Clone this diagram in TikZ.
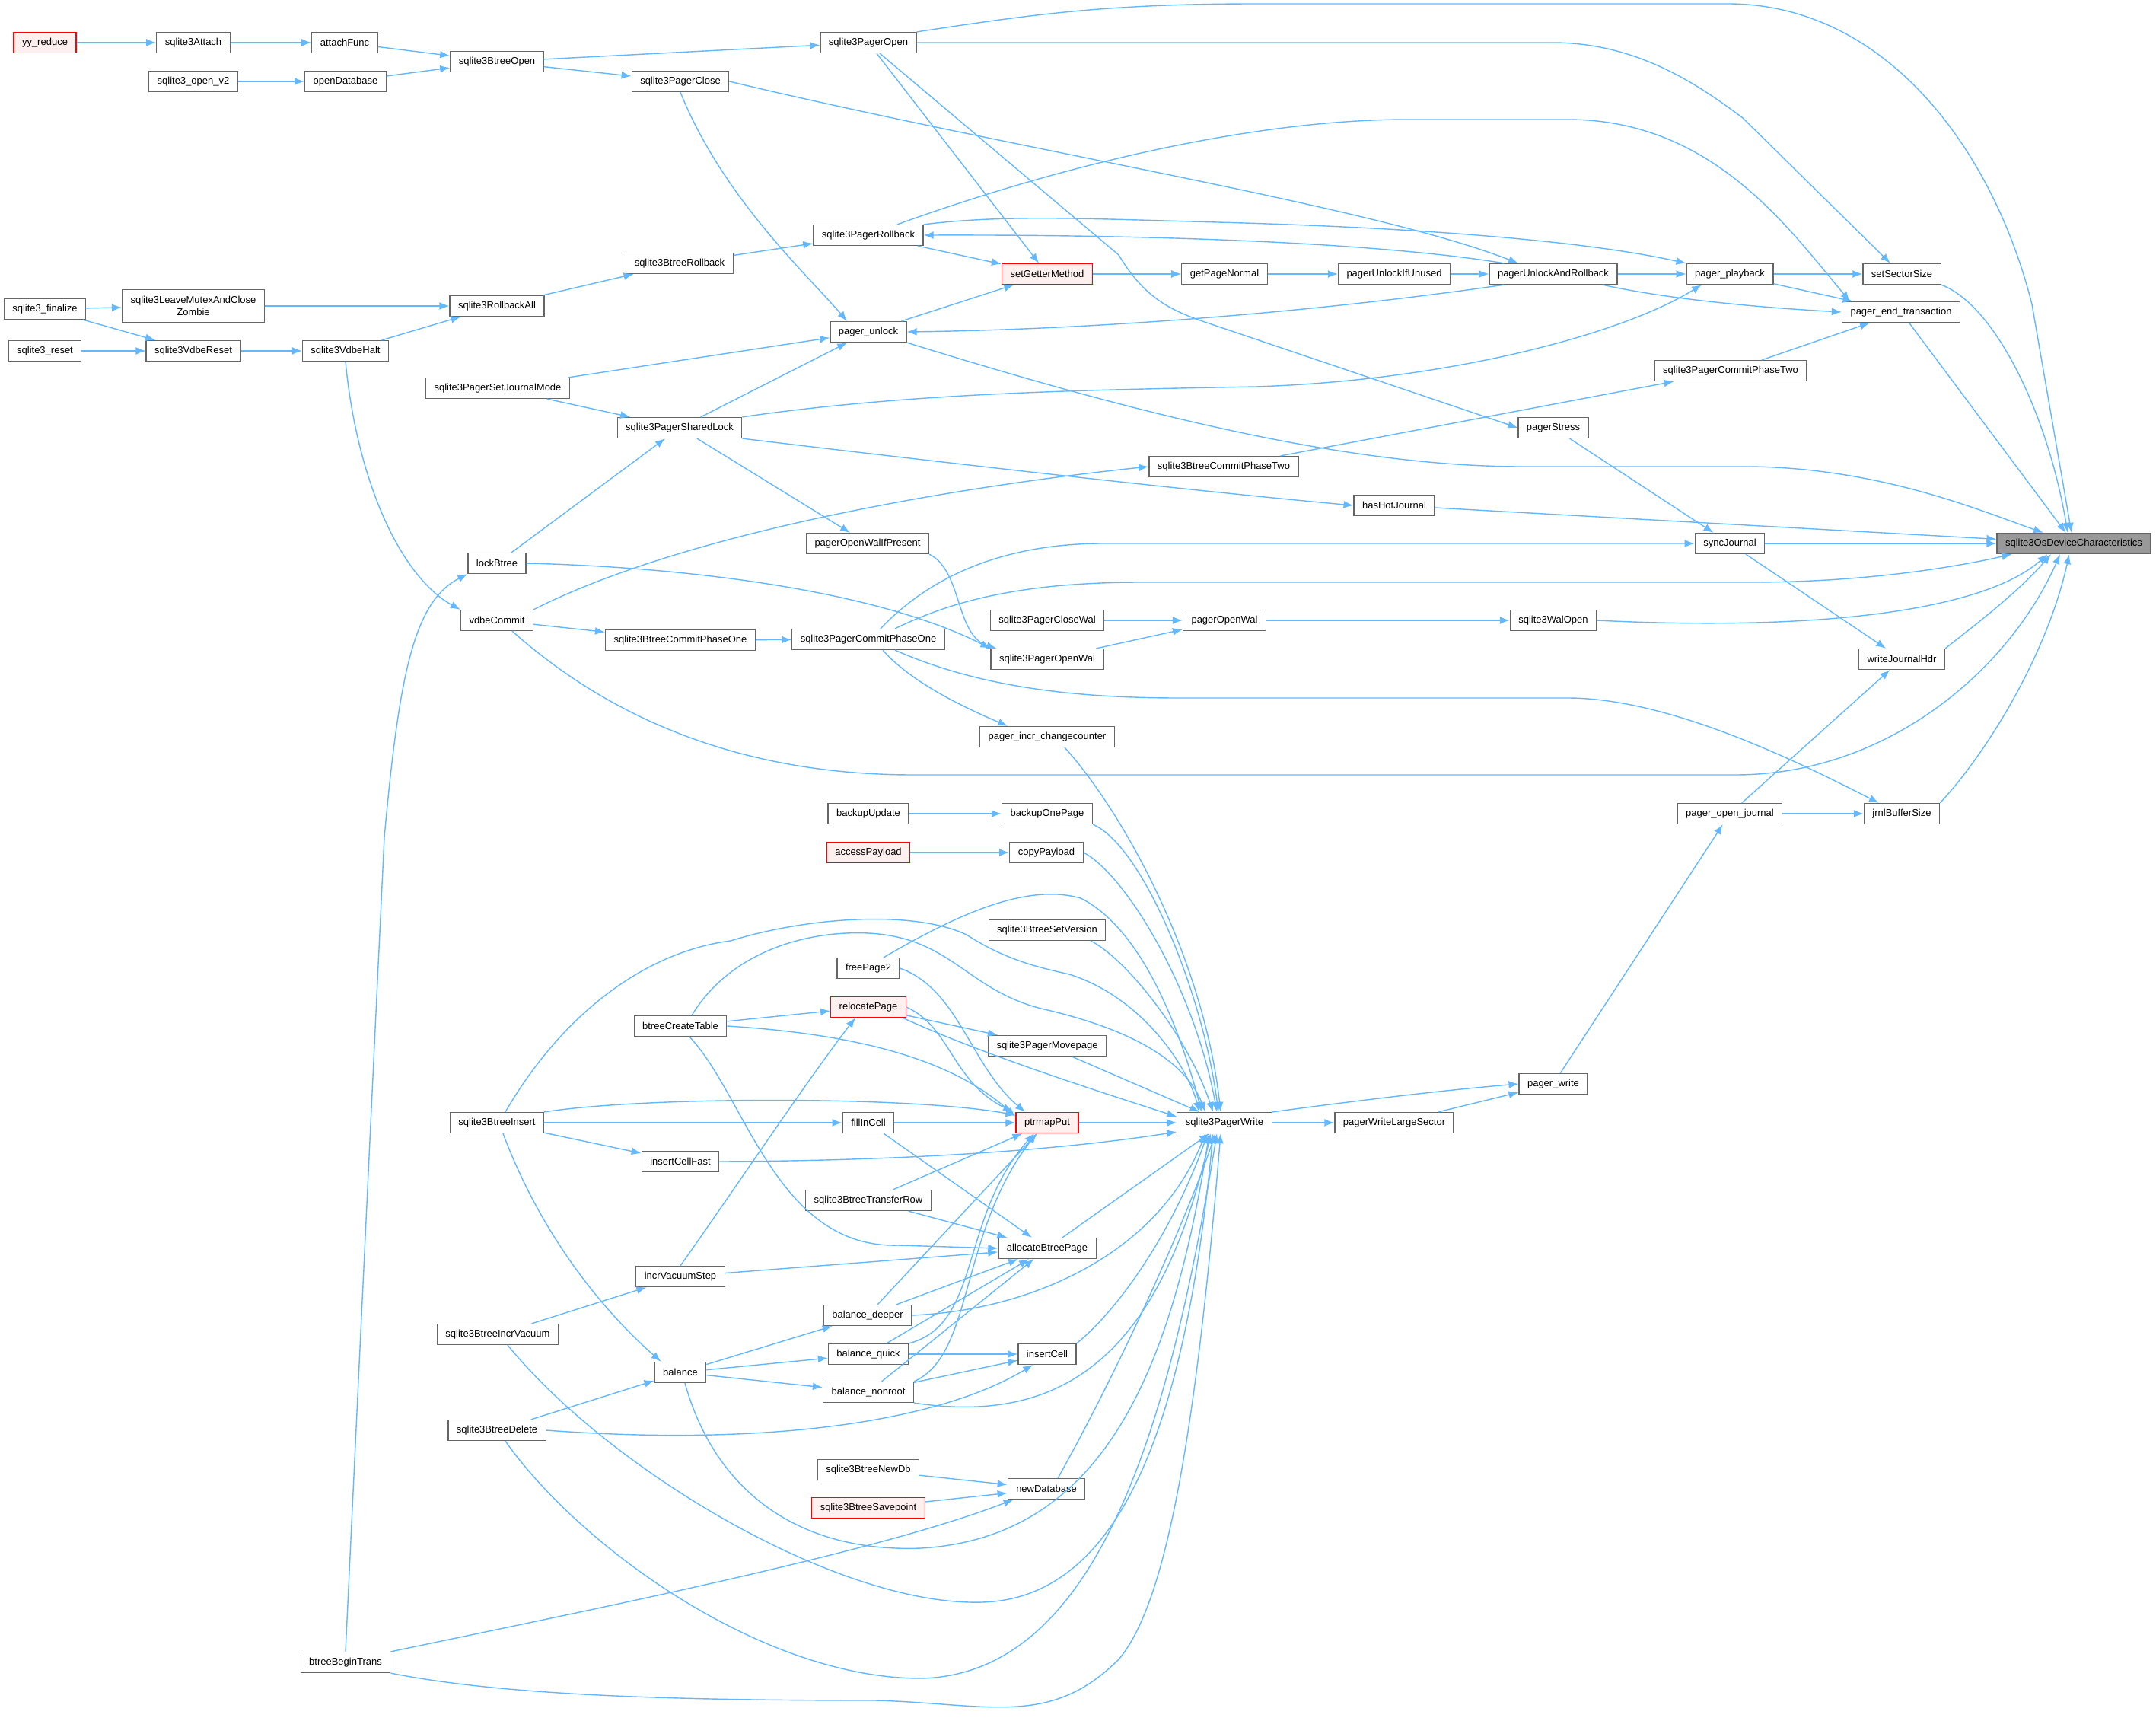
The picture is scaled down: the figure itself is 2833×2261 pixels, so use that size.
\documentclass[tikz,border=0pt]{standalone}
\usepackage{fontspec}
\setmainfont{Liberation Sans}
\usetikzlibrary{calc,arrows.meta}
\definecolor{edgeblue}{RGB}{99,184,255}
\definecolor{boxgray}{RGB}{102,102,102}
\definecolor{hotfill}{RGB}{255,240,240}
\definecolor{rootfill}{RGB}{153,153,153}

\begin{document}
\begin{tikzpicture}[x=0.02cm,y=-0.02cm]
\tikzstyle{fn} = [draw=boxgray, fill=white, line width=0.7pt, inner xsep=0.22cm,
            inner ysep=0pt, minimum height=0.54cm, font=\fontsize{7.4}{8.8}\selectfont];
\tikzstyle{hotfn} = [fn, draw=red, fill=hotfill];
\tikzstyle{rootfn} = [fn, fill=rootfill];
\tikzstyle{calls} = [draw=edgeblue, line width=0.8pt, -{Latex[length=2.6mm,width=2mm]}];

    \fill[white] (0,0) rectangle (2833,2261);
    \useasboundingbox (0,0) rectangle (2833,2261);

    % functions
    \node (yyreduce) at (59,56) [hotfn] {yy\_reduce};
    \node (attach) at (254,56) [fn] {sqlite3Attach};
    \node (attachfunc) at (453,56) [fn] {attachFunc};
    \node (btopen) at (653,81) [fn] {sqlite3BtreeOpen};
    \node (openv2) at (254,107) [fn] {sqlite3\_open\_v2};
    \node (opendb) at (454,107) [fn] {openDatabase};
    \node (pgopen) at (1141,56) [fn] {sqlite3PagerOpen};
    \node (pgclose) at (894,107) [fn] {sqlite3PagerClose};
    \node (pgrollback) at (1141,309) [fn] {sqlite3PagerRollback};
    \node (btrollback) at (893,346) [fn] {sqlite3BtreeRollback};
    \node (getter) at (1376,360) [hotfn] {setGetterMethod};
    \node (getpage) at (1609,360) [fn] {getPageNormal};
    \node (unlockunused) at (1832,360) [fn] {pagerUnlockIfUnused};
    \node (unlockrb) at (2041,360) [fn] {pagerUnlockAndRollback};
    \node (playback) at (2273,360) [fn] {pager\_playback};
    \node (sectorsize) at (2499,360) [fn] {setSectorSize};
    \node (finalize) at (59,406) [fn] {sqlite3\_finalize};
    \node (zombie) at (254,402) [fn, align=center, minimum height=0.86cm] {sqlite3LeaveMutexAndClose\\Zombie};
    \node (rollbackall) at (653,402) [fn] {sqlite3RollbackAll};
    \node (endtrans) at (2498,410) [fn] {pager\_end\_transaction};
    \node (pgunlock) at (1141,436) [fn] {pager\_unlock};
    \node (reset) at (59,461) [fn] {sqlite3\_reset};
    \node (vdbereset) at (254,461) [fn] {sqlite3VdbeReset};
    \node (vdbehalt) at (454,461) [fn] {sqlite3VdbeHalt};
    \node (commit2) at (2274,487) [fn] {sqlite3PagerCommitPhaseTwo};
    \node (setjmode) at (654,510) [fn] {sqlite3PagerSetJournalMode};
    \node (sharedlock) at (893,562) [fn] {sqlite3PagerSharedLock};
    \node (stress) at (2041,562) [fn] {pagerStress};
    \node (btcommit2) at (1608,613) [fn] {sqlite3BtreeCommitPhaseTwo};
    \node (hothj) at (1832,664) [fn] {hasHotJournal};
    \node (walifpresent) at (1140,714) [fn] {pagerOpenWalIfPresent};
    \node (syncj) at (2273,714) [fn] {syncJournal};
    \node (osdev) at (2725,714) [rootfn] {sqlite3OsDeviceCharacteristics};
    \node (lockbtree) at (653,740) [fn] {lockBtree};
    \node (vdbecommit) at (653,815) [fn] {vdbeCommit};
    \node (closewal) at (1376,815) [fn] {sqlite3PagerCloseWal};
    \node (openwal) at (1609,815) [fn] {pagerOpenWal};
    \node (walopen) at (2041,815) [fn] {sqlite3WalOpen};
    \node (btcommit1) at (894,841) [fn] {sqlite3BtreeCommitPhaseOne};
    \node (pgcommit1) at (1141,840) [fn] {sqlite3PagerCommitPhaseOne};
    \node (pgopenwal) at (1376,866) [fn] {sqlite3PagerOpenWal};
    \node (writehdr) at (2499,866) [fn] {writeJournalHdr};
    \node (incrcc) at (1376,968) [fn] {pager\_incr\_changecounter};
    \node (backupupdate) at (1141,1069) [fn] {backupUpdate};
    \node (backuppage) at (1376,1069) [fn] {backupOnePage};
    \node (openjournal) at (2273,1069) [fn] {pager\_open\_journal};
    \node (jrnlbuf) at (2499,1069) [fn] {jrnlBufferSize};
    \node (accesspayload) at (1141,1120) [hotfn] {accessPayload};
    \node (copypayload) at (1375,1120) [fn] {copyPayload};
    \node (setversion) at (1376,1222) [fn] {sqlite3BtreeSetVersion};
    \node (freepage2) at (1141,1272) [fn] {freePage2};
    \node (relocate) at (1141,1323) [hotfn] {relocatePage};
    \node (createtable) at (894,1348) [fn] {btreeCreateTable};
    \node (movepage) at (1376,1374) [fn] {sqlite3PagerMovepage};
    \node (pagerwrite) at (2041,1424) [fn] {pager\_write};
    \node (btinsert) at (653,1475) [fn] {sqlite3BtreeInsert};
    \node (fillincell) at (1141,1475) [fn] {fillInCell};
    \node (ptrmap) at (1376,1475) [hotfn] {ptrmapPut};
    \node (pgwrite) at (1609,1475) [fn] {sqlite3PagerWrite};
    \node (largesector) at (1832,1475) [fn] {pagerWriteLargeSector};
    \node (insertfast) at (894,1526) [fn] {insertCellFast};
    \node (transferrow) at (1141,1577) [fn] {sqlite3BtreeTransferRow};
    \node (allocpage) at (1376,1640) [fn] {allocateBtreePage};
    \node (incrvacstep) at (894,1677) [fn] {incrVacuumStep};
    \node (baldeeper) at (1140,1728) [fn] {balance\_deeper};
    \node (incrvacuum) at (654,1753) [fn] {sqlite3BtreeIncrVacuum};
    \node (balquick) at (1141,1779) [fn] {balance\_quick};
    \node (insertcell) at (1376,1779) [fn] {insertCell};
    \node (balance) at (894,1803) [fn] {balance};
    \node (balnonroot) at (1141,1829) [fn] {balance\_nonroot};
    \node (btdelete) at (653,1879) [fn] {sqlite3BtreeDelete};
    \node (btnewdb) at (1141,1931) [fn] {sqlite3BtreeNewDb};
    \node (newdb) at (1375,1956) [fn] {newDatabase};
    \node (savepoint) at (1141,1981) [hotfn] {sqlite3BtreeSavepoint};
    \node (begintrans) at (454,2184) [fn] {btreeBeginTrans};

    % straight calls
    \foreach \src/\dst in {yyreduce/attach, attach/attachfunc, attachfunc/btopen,
            openv2/opendb, opendb/btopen, btopen/pgopen, btopen/pgclose,
            finalize/zombie, finalize/vdbereset, reset/vdbereset, vdbereset/vdbehalt,
            vdbehalt/rollbackall, zombie/rollbackall, rollbackall/btrollback,
            btrollback/pgrollback, pgopen/getter, pgrollback/getter, pgunlock/getter,
            getter/getpage, getpage/unlockunused, unlockunused/unlockrb,
            unlockrb/playback, playback/sectorsize, playback/endtrans, commit2/endtrans,
            btcommit2/commit2, endtrans/osdev, setjmode/pgunlock, setjmode/sharedlock,
            sharedlock/pgunlock, sharedlock/walifpresent, lockbtree/sharedlock,
            stress/syncj, hothj/osdev, syncj/osdev, syncj/writehdr,
            vdbecommit/btcommit1, btcommit1/pgcommit1, closewal/openwal,
            pgopenwal/openwal, openwal/walopen, openjournal/writehdr,
            openjournal/jrnlbuf, pagerwrite/openjournal, pgwrite/largesector,
            largesector/pagerwrite, backupupdate/backuppage, accesspayload/copypayload,
            relocate/movepage, createtable/relocate, movepage/pgwrite,
            btinsert/fillincell, btinsert/insertfast, fillincell/ptrmap,
            fillincell/allocpage, transferrow/ptrmap, transferrow/allocpage,
            ptrmap/pgwrite, allocpage/pgwrite, incrvacstep/allocpage,
            incrvacuum/incrvacstep, balance/baldeeper, balance/balquick,
            balance/balnonroot, btdelete/balance, baldeeper/ptrmap, baldeeper/allocpage,
            balquick/allocpage, balquick/insertcell, balnonroot/allocpage,
            balnonroot/insertcell, btnewdb/newdb, savepoint/newdb} {
        \draw[calls] (\src) -- (\dst);
    }

    % routed calls, upper half
    \draw[calls] (pgopen.north east) .. controls (1350,20) and (1450,5) .. (1650,5) -- (2270,5) .. controls (2480,5) and (2620,200) .. (2670,400) -- ($(osdev.north)+(-3,0)$);
    \draw[calls] (pgopen.east) -- (2040,56) .. controls (2150,56) and (2230,110) .. (2290,155) -- ($(sectorsize.north)+(-15,0)$);
    \draw[calls] ($(pgopen.south)+(15,0)$) -- (1470,335) .. controls (1500,385) and (1530,405) .. (1580,422) -- (stress.west);
    \draw[calls] (pgclose.south) .. controls (950,260) and (1060,360) .. ($(pgunlock.north)+(-28,0)$);
    \draw[calls] (pgclose.east) .. controls (1350,200) and (1800,270) .. ($(unlockrb.north)+(-46,0)$);
    \draw[calls] ($(pgrollback.north)+(38,0)$) .. controls (1400,215) and (1650,157) .. (1850,157) -- (2060,157) .. controls (2250,157) and (2350,300) .. ($(endtrans.north west)+(11,0)$);
    \draw[calls] (pgrollback.north east) .. controls (1320,282) and (1420,287) .. (1600,292) .. controls (1900,300) and (2100,320) .. (playback.north west);
    \draw[calls] ($(unlockrb.north west)+(20,0)$) .. controls (1850,325) and (1600,308) .. (pgrollback.east);
    \draw[calls] ($(unlockrb.south west)+(20,0)$) .. controls (1800,400) and (1500,432) .. (pgunlock.east);
    \draw[calls] ($(unlockrb.south east)+(-20,0)$) .. controls (2200,395) and (2330,405) .. (endtrans.west);
    \draw[calls] (sectorsize.south east) .. controls (2620,400) and (2690,540) .. ($(osdev.north)+(-8,0)$);
    \draw[calls] (sharedlock.north east) .. controls (1200,515) and (1450,512) .. (1650,508) .. controls (1900,500) and (2130,440) .. ($(playback.south)+(-37,0)$);
    \draw[calls] (sharedlock.south east) .. controls (1300,615) and (1600,648) .. (hothj.west);
    \draw[calls] (pgunlock.south east) .. controls (1450,530) and (1750,613) .. (2000,613) -- (2300,613) .. controls (2470,615) and (2600,670) .. ($(osdev.north)+(-40,0)$);
    \draw[calls] (vdbehalt.south) .. controls (470,640) and (530,760) .. (vdbecommit.north west);
    \draw[calls] (lockbtree.east) .. controls (900,745) and (1150,775) .. (pgopenwal.north west);
    \draw[calls] (walifpresent.south east) .. controls (1265,750) and (1255,835) .. ($(pgopenwal.north west)+(8,0)$);
    \draw[calls] (vdbecommit.north east) .. controls (900,700) and (1250,640) .. (btcommit2.west);
    \draw[calls] ($(vdbecommit.south)+(20,0)$) .. controls (820,960) and (1000,1018) .. (1200,1018) -- (2280,1018) .. controls (2480,1018) and (2640,880) .. ($(osdev.south)+(-18,0)$);
    \draw[calls] ($(pgcommit1.north)+(16,0)$) .. controls (1210,770) and (1300,714) .. (1450,714) -- (syncj.west);
    \draw[calls] ($(pgcommit1.north)+(35,0)$) .. controls (1250,790) and (1340,765) .. (1500,765) -- (2300,765) .. controls (2450,765) and (2570,745) .. ($(osdev.south west)+(20,0)$);
    \draw[calls] ($(pgcommit1.south)+(35,0)$) .. controls (1280,900) and (1400,917) .. (1550,917) -- (2060,917) .. controls (2200,917) and (2380,1010) .. ($(jrnlbuf.north west)+(20,0)$);
    \draw[calls] ($(pgcommit1.south)+(19,0)$) .. controls (1200,900) and (1280,935) .. ($(incrcc.north west)+(37,0)$);
    \draw[calls] (walopen.east) .. controls (2400,830) and (2610,800) .. ($(osdev.south west)+(67,0)$);
    \draw[calls] (writehdr.north east) .. controls (2590,825) and (2650,780) .. ($(osdev.south)+(-30,0)$);
    \draw[calls] (jrnlbuf.north east) .. controls (2610,990) and (2690,860) .. ($(osdev.south)+(-6,0)$);
    \draw[calls] (pgwrite.north east) .. controls (1790,1445) and (1900,1432) .. (pagerwrite.west);

    % routed calls, lower half
    \draw[calls] (backuppage.south east) .. controls (1500,1110) and (1580,1300) .. ($(pgwrite.north)+(-8,0)$);
    \draw[calls] ($(incrcc.south)+(23,0)$) .. controls (1470,1060) and (1580,1250) .. ($(pgwrite.north)+(-5,0)$);
    \draw[calls] (copypayload.east) .. controls (1480,1150) and (1570,1300) .. ($(pgwrite.north)+(-10,0)$);
    \draw[calls] ($(setversion.south east)+(-20,0)$) .. controls (1480,1260) and (1560,1360) .. ($(pgwrite.north)+(-15,0)$);
    \draw[calls] ($(freepage2.north)+(20,0)$) .. controls (1260,1200) and (1350,1160) .. (1420,1180) .. controls (1500,1220) and (1550,1350) .. ($(pgwrite.north)+(-30,0)$);
    \draw[calls] (freepage2.east) .. controls (1260,1300) and (1275,1400) .. ($(ptrmap.north)+(-29,0)$);
    \draw[calls] (relocate.east) .. controls (1250,1350) and (1250,1420) .. ($(ptrmap.north)+(-45,0)$);
    \draw[calls] ($(relocate.south east)+(-5,0)$) .. controls (1280,1380) and (1400,1420) .. ($(pgwrite.west)+(0,-8)$);
    \draw[calls] (createtable.east) .. controls (1150,1360) and (1260,1400) .. ($(ptrmap.west)+(0,-8)$);
    \draw[calls] ($(createtable.north)+(15,0)$) .. controls (960,1250) and (1060,1222) .. (1142,1226) .. controls (1250,1232) and (1270,1300) .. (1368,1325) .. controls (1500,1355) and (1560,1400) .. ($(pgwrite.north)+(-25,0)$);
    \draw[calls] ($(btinsert.north)+(11,0)$) .. controls (740,1330) and (850,1250) .. (960,1236) .. controls (1060,1205) and (1200,1195) .. (1270,1228) .. controls (1320,1260) and (1360,1270) .. (1405,1280) .. controls (1500,1310) and (1560,1400) .. ($(pgwrite.north)+(-33,0)$);
    \draw[calls] (btinsert.north east) .. controls (850,1440) and (1200,1440) .. ($(ptrmap.west)+(0,-10)$);
    \draw[calls] ($(btinsert.south)+(8,0)$) .. controls (710,1620) and (790,1720) .. ($(balance.north west)+(9,0)$);
    \draw[calls] (insertfast.east) .. controls (1200,1525) and (1400,1510) .. ($(pgwrite.west)+(0,12)$);
    \draw[calls] ($(createtable.south)+(12,0)$) .. controls (980,1440) and (1020,1640) .. (1180,1636) -- (allocpage.west);
    \draw[calls] (incrvacstep.north) .. controls (960,1570) and (1060,1420) .. ($(relocate.south)+(-17,0)$);
    \draw[calls] ($(incrvacuum.south)+(13,0)$) .. controls (800,1930) and (1100,2110) .. (1290,2105) .. controls (1480,2100) and (1560,1850) .. ($(pgwrite.south)+(-15,0)$);
    \draw[calls] ($(balance.south)+(6,0)$) .. controls (940,1960) and (1050,2040) .. (1210,2034) .. controls (1450,2020) and (1540,1800) .. ($(pgwrite.south)+(-20,0)$);
    \draw[calls] ($(btdelete.south)+(11,0)$) .. controls (760,2030) and (1000,2205) .. (1210,2205) .. controls (1450,2200) and (1540,1850) .. ($(pgwrite.south)+(-10,0)$);
    \draw[calls] (btdelete.east) .. controls (1000,1900) and (1230,1870) .. ($(insertcell.south west)+(20,0)$);
    \draw[calls] (begintrans.north east) .. controls (800,2110) and (1150,2040) .. ($(newdb.south west)+(8,0)$);
    \draw[calls] (begintrans.south east) .. controls (650,2225) and (850,2234) .. (1150,2234) .. controls (1300,2238) and (1380,2270) .. (1470,2180) .. controls (1530,2110) and (1570,1900) .. ($(pgwrite.south)+(-5,0)$);
    \draw[calls] (begintrans.north) -- (505,1100) .. controls (525,880) and (545,790) .. (lockbtree.south west);
    \draw[calls] (baldeeper.east) .. controls (1350,1722) and (1520,1650) .. ($(pgwrite.south)+(-25,0)$);
    \draw[calls] (balquick.north east) .. controls (1290,1740) and (1260,1600) .. ($(ptrmap.south)+(-17,0)$);
    \draw[calls] (balnonroot.north east) .. controls (1280,1780) and (1260,1620) .. ($(ptrmap.south)+(-14,0)$);
    \draw[calls] (balnonroot.south east) .. controls (1380,1870) and (1520,1800) .. ($(pgwrite.south)+(-18,0)$);
    \draw[calls] (insertcell.north east) .. controls (1470,1720) and (1540,1620) .. ($(pgwrite.south)+(-22,0)$);
    \draw[calls] ($(newdb.north)+(15,0)$) .. controls (1470,1800) and (1560,1600) .. ($(pgwrite.south)+(-12,0)$);

\end{tikzpicture}
\end{document}
